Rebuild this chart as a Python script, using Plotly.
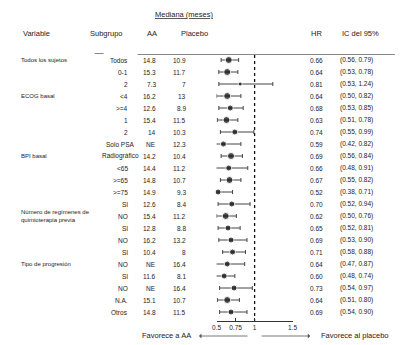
import plotly.graph_objects as go

subgroups = ["Todos", "0-1", "2", "<4", ">=4", "1", "2", "Solo PSA", "Radiográfico",
             "<65", ">=65", ">=75", "SI", "NO", "SI", "NO", "SI", "NO", "SI", "NO",
             "N.A.", "Otros"]
aa_median = ["14.8", "15.3", "7.3", "16.2", "12.6", "15.4", "14", "NE", "14.2", "14.4",
             "14.8", "14.9", "12.6", "15.4", "12.8", "16.2", "10.4", "NE", "11.6", "NE",
             "15.1", "14.8"]
placebo_median = ["10.9", "11.7", "7", "13", "8.9", "11.5", "10.3", "12.3", "10.4", "11.2",
                  "10.7", "9.3", "8.4", "11.2", "8.8", "13.2", "8", "16.4", "8.1", "16.4",
                  "10.7", "11.5"]
hr = [0.66, 0.64, 0.81, 0.64, 0.68, 0.63, 0.74, 0.59, 0.69, 0.66, 0.67, 0.52,
      0.70, 0.62, 0.65, 0.69, 0.71, 0.64, 0.60, 0.73, 0.64, 0.69]
ci_low = [0.56, 0.53, 0.53, 0.50, 0.53, 0.51, 0.55, 0.42, 0.56, 0.48, 0.55, 0.38,
          0.52, 0.50, 0.52, 0.53, 0.58, 0.47, 0.48, 0.54, 0.51, 0.54]
ci_high = [0.79, 0.78, 1.24, 0.82, 0.85, 0.78, 0.99, 0.82, 0.84, 0.91, 0.82, 0.71,
           0.94, 0.76, 0.81, 0.90, 0.88, 0.87, 0.74, 0.97, 0.80, 0.90]
variables = ["Todos los sujetos", "ECOG basal", "BPI basal",
             "Número de regímenes de<br>quimioterapia previa", "Tipo de progresión"]
variable_rows = [0, 3, 8, 13, 17]
tick_vals = [0.5, 0.75, 1, 1.5]
tick_text = ["0.5", "0.75", "1", "1.5"]

# style: marker sizes (study weight)
marker_sizes = [7, 7, 4, 7, 6, 7, 6, 6, 7, 6, 7, 6, 6, 7, 6, 6, 6, 6, 6, 6, 7, 6]

W, H = 400, 345
FONT = "Liberation Sans, Arial, sans-serif"
TXT = "#222"

n = len(subgroups)
rows = list(range(n))

fig = go.Figure()

# reference line at HR = 1
fig.add_trace(go.Scatter(
    x=[1, 1], y=[-0.42, 21.75], mode="lines", xaxis="x2", yaxis="y",
    line=dict(color="#111", width=1.3, dash="dot"), hoverinfo="skip", showlegend=False))

# points with CIs
fig.add_trace(go.Scatter(
    x=hr, y=rows, mode="markers", xaxis="x2", yaxis="y",
    marker=dict(color="black", size=marker_sizes, symbol="circle"),
    error_x=dict(type="data", symmetric=False,
                 array=[h - m for h, m in zip(ci_high, hr)],
                 arrayminus=[m - l for m, l in zip(hr, ci_low)],
                 color="#444", thickness=1, width=2),
    cliponaxis=False, showlegend=False, hoverinfo="skip"))

ann = []

def px(x):
    return x / W

def py(y):
    return 1 - y / H

# headers
ann.append(dict(text="<u>Mediana (meses)</u>", x=px(184), y=py(15), xref="paper", yref="paper",
                showarrow=False, xanchor="center", yanchor="middle",
                font=dict(size=7.5, color=TXT, family=FONT)))
for t, x, anc in [("Variable", 16, "left"), ("Subgrupo", 104, "center"), ("AA", 151, "center"),
                  ("Placebo", 194, "center"), ("HR", 319, "center"), ("IC del 95%", 365, "center")]:
    ann.append(dict(text=t, x=px(x), y=py(33), xref="paper", yref="paper", showarrow=False,
                    xanchor=anc, yanchor="middle", font=dict(size=7.5, color=TXT, family=FONT)))

# per-row text
for i in rows:
    sg = subgroups[i]
    if sg in ("Radiográfico", "Solo PSA"):
        sx, sanc = 118, "center"
    else:
        sx, sanc = 128, "right"
    ann.append(dict(text=sg, x=px(sx), y=i, xref="paper", yref="y", showarrow=False,
                    xanchor=sanc, yanchor="middle", font=dict(size=6.5, color=TXT, family=FONT)))
    ann.append(dict(text=aa_median[i], x=px(157), y=i, xref="paper", yref="y", showarrow=False,
                    xanchor="right", yanchor="middle", font=dict(size=6.5, color=TXT, family=FONT)))
    ann.append(dict(text=placebo_median[i], x=px(188), y=i, xref="paper", yref="y", showarrow=False,
                    xanchor="right", yanchor="middle", font=dict(size=6.5, color=TXT, family=FONT)))
    ann.append(dict(text=f"{hr[i]:.2f}", x=px(319), y=i, xref="paper", yref="y", showarrow=False,
                    xanchor="center", yanchor="middle", font=dict(size=6.5, color=TXT, family=FONT)))
    ann.append(dict(text=f"({ci_low[i]:.2f}, {ci_high[i]:.2f})", x=px(342), y=i, xref="paper",
                    yref="y", showarrow=False, xanchor="left", yanchor="middle",
                    font=dict(size=6.5, color=TXT, family=FONT)))

for v, r in zip(variables, variable_rows):
    ann.append(dict(text=v, x=px(14), y=r, xref="paper", yref="y", showarrow=False,
                    xanchor="left", yanchor="middle", align="left",
                    font=dict(size=6, color=TXT, family=FONT)))

# favour labels and arrows
ann.append(dict(text="Favorece a AA", x=px(193), y=py(335), xref="paper", yref="paper",
                showarrow=False, xanchor="right", yanchor="middle",
                font=dict(size=7.5, color=TXT, family=FONT)))
ann.append(dict(text="Favorece al placebo", x=px(322), y=py(335), xref="paper", yref="paper",
                showarrow=False, xanchor="left", yanchor="middle",
                font=dict(size=7.5, color=TXT, family=FONT)))
ann.append(dict(text="", x=px(199), y=py(336), xref="paper", yref="paper",
                ax=50, ay=0, showarrow=True, arrowhead=1, arrowsize=1, arrowwidth=0.8,
                arrowcolor="#555"))
ann.append(dict(text="", x=px(313), y=py(336), xref="paper", yref="paper",
                ax=-50, ay=0, showarrow=True, arrowhead=1, arrowsize=1, arrowwidth=0.8,
                arrowcolor="#555"))

shapes = [
    dict(type="line", xref="paper", yref="paper", x0=px(136), x1=px(400), y0=py(54.5), y1=py(54.5),
         line=dict(color="#888", width=1)),
    dict(type="line", xref="paper", yref="paper", x0=px(92), x1=px(101), y0=py(53.5), y1=py(53.5),
         line=dict(color="#888", width=1)),
]

# primary x axis spans full width with same scale as x2 (78 px per unit, 0.5 at x=217)
left = 0.5 - 217 / 78
right = 0.5 + (W - 217) / 78

fig.update_layout(
    width=W, height=H, margin=dict(l=0, r=0, t=0, b=0),
    paper_bgcolor="white", plot_bgcolor="white",
    xaxis=dict(domain=[0, 1], range=[left, right], visible=False),
    xaxis2=dict(domain=[217 / W, 295 / W], range=[0.5, 1.5], overlaying="x", anchor="free",
                position=1 - 321 / H, showline=True, linecolor="#333", linewidth=1,
                ticks="inside", ticklen=3, tickcolor="#333", tickvals=tick_vals,
                ticktext=tick_text, showgrid=False, zeroline=False,
                tickfont=dict(size=6.5, color=TXT, family=FONT)),
    yaxis=dict(domain=[0, 1], range=[(H - 60) / 12, -60 / 12], visible=False),
    annotations=ann, shapes=shapes, showlegend=False,
)

fig.write_html("out.html")
